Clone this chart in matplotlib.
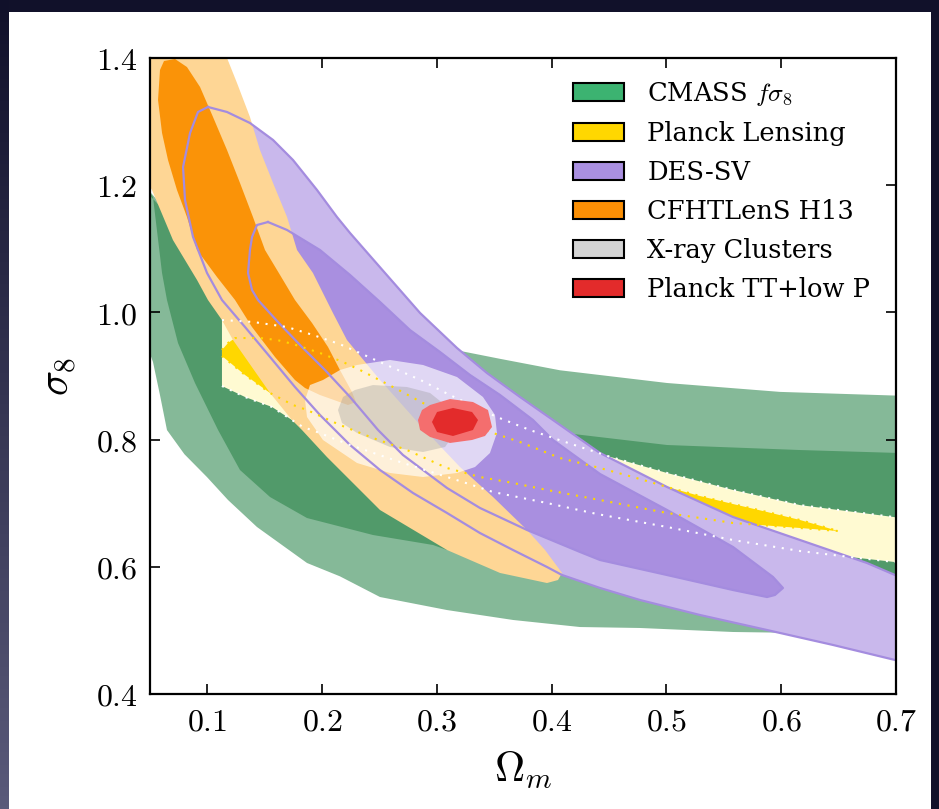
import numpy as np
import matplotlib
matplotlib.use('Agg')
import matplotlib.pyplot as plt
from matplotlib.patches import Patch, Rectangle
from matplotlib.colors import LinearSegmentedColormap

plt.rcParams['font.family'] = ['DejaVu Serif']
plt.rcParams['mathtext.fontset'] = 'cm'

# ---------------- data (Omega_m, sigma_8) ----------------
CMASS_OUTER = [(0.0413, 1.208), (0.0936, 1.098), (0.1807, 0.988), (0.2678, 0.957), (0.3158, 0.941),
               (0.355, 0.927), (0.4072, 0.909), (0.5005, 0.889), (0.599, 0.875), (0.7035, 0.869),
               (0.7035, 0.493), (0.6164, 0.496), (0.558, 0.4975), (0.4769, 0.5038), (0.4247, 0.5053),
               (0.3663, 0.5164), (0.3088, 0.532), (0.2504, 0.5525), (0.2155, 0.585), (0.1868, 0.606),
               (0.1432, 0.6626), (0.1180, 0.705), (0.0997, 0.741), (0.0800, 0.777), (0.0648, 0.815),
               (0.0587, 0.870), (0.0526, 0.922), (0.0456, 0.957)]
CMASS_INNER = [(0.0413, 1.200), (0.111, 1.067), (0.198, 0.957), (0.2853, 0.870), (0.355, 0.823),
               (0.4133, 0.810), (0.5005, 0.7915), (0.6164, 0.7836), (0.7035, 0.7789),
               (0.7035, 0.540), (0.6164, 0.540), (0.5292, 0.571), (0.4421, 0.6028), (0.355, 0.623),
               (0.3088, 0.6264), (0.2966, 0.6343), (0.2443, 0.650), (0.1868, 0.6767), (0.1546, 0.7097),
               (0.1284, 0.7522), (0.1093, 0.8151), (0.0892, 0.889), (0.0744, 0.9519), (0.0648, 1.0195),
               (0.0605, 1.0619), (0.0526, 1.1814), (0.0456, 1.200)]

LENS_OUTER_UPPER = [(0.1127, 0.988), (0.1397, 0.985), (0.1694, 0.977), (0.192, 0.9645), (0.2155, 0.950),
                    (0.233, 0.936), (0.2565, 0.917), (0.2853, 0.894), (0.3114, 0.870), (0.3523, 0.8355),
                    (0.3811, 0.815), (0.4072, 0.799), (0.4508, 0.773), (0.5005, 0.7475), (0.558, 0.7208),
                    (0.6164, 0.697), (0.6991, 0.678), (0.708, 0.677)]
LENS_OUTER_LOWER = [(0.1127, 0.8843), (0.1328, 0.867), (0.1563, 0.8513), (0.1737, 0.8308), (0.1833, 0.8198),
                    (0.1955, 0.812), (0.2243, 0.7915), (0.2678, 0.7648), (0.3088, 0.7412), (0.3227, 0.7333),
                    (0.3489, 0.7176), (0.3959, 0.7003), (0.4395, 0.683), (0.5005, 0.6626), (0.558, 0.6421),
                    (0.6164, 0.6248), (0.6599, 0.6154), (0.6991, 0.6075), (0.708, 0.606)]
LENS_INNER_UPPER = [(0.1127, 0.9409), (0.118, 0.9519), (0.1241, 0.9597), (0.1458, 0.9597), (0.1607, 0.9566),
                    (0.1746, 0.9503), (0.1981, 0.9362), (0.2182, 0.922), (0.233, 0.9094), (0.2617, 0.8827),
                    (0.2879, 0.8575), (0.3201, 0.8308), (0.3489, 0.8104), (0.3724, 0.7962), (0.4072, 0.7711),
                    (0.4421, 0.7553), (0.4708, 0.7412), (0.5005, 0.7255), (0.5292, 0.7113), (0.558, 0.6987),
                    (0.5876, 0.6862), (0.6164, 0.6736), (0.6350, 0.6640), (0.6495, 0.6563)]
LENS_INNER_LOWER = [(0.1127, 0.9315), (0.1328, 0.9016), (0.1546, 0.8733), (0.1746, 0.8544), (0.1868, 0.8465),
                    (0.2155, 0.823), (0.2443, 0.8025), (0.2739, 0.7836), (0.3088, 0.7553), (0.3375, 0.7412),
                    (0.3663, 0.7318), (0.3959, 0.7208), (0.4421, 0.705), (0.5005, 0.6846), (0.558, 0.6689),
                    (0.6164, 0.661), (0.6495, 0.6563)]

DES_OUTER = [(0.1005, 1.323), (0.1171, 1.3151), (0.1371, 1.2978), (0.1572, 1.2711), (0.1746, 1.2396),
             (0.1955, 1.1925), (0.2129, 1.150), (0.2243, 1.1248), (0.2548, 1.0619), (0.2853, 0.9991),
             (0.3175, 0.944), (0.3436, 0.9047), (0.3724, 0.867), (0.4011, 0.8308), (0.4421, 0.7789),
             (0.5005, 0.7255), (0.558, 0.6783), (0.6164, 0.6421), (0.6747, 0.606), (0.6991, 0.5871),
             (0.7209, 0.573), (0.7209, 0.4425), (0.6991, 0.4535), (0.6451, 0.4771), (0.5876, 0.5006),
             (0.5292, 0.5242), (0.4769, 0.5478), (0.4421, 0.5667), (0.409, 0.5871), (0.3959, 0.5997),
             (0.3663, 0.6264), (0.3375, 0.6531), (0.3088, 0.6846), (0.2792, 0.716), (0.2504, 0.7522),
             (0.2243, 0.7915), (0.1981, 0.8387), (0.1763, 0.8827), (0.1546, 0.9299), (0.1328, 0.977),
             (0.1127, 1.0195), (0.0997, 1.0619), (0.0875, 1.1186), (0.0805, 1.1767), (0.0788, 1.2286),
             (0.0849, 1.2821), (0.0918, 1.3151)]
DES_INNER = [(0.1528, 1.1421), (0.1694, 1.1296), (0.1981, 1.0981), (0.2243, 1.0588), (0.2504, 1.0164),
             (0.2765, 0.9723), (0.3027, 0.9377), (0.3288, 0.9016), (0.355, 0.8701), (0.3837, 0.8308),
             (0.4011, 0.7994), (0.4421, 0.7459), (0.5005, 0.6893), (0.558, 0.6311), (0.5928, 0.584),
             (0.6015, 0.5667), (0.5945, 0.5557), (0.5876, 0.5525), (0.558, 0.5635), (0.5005, 0.5871),
             (0.4421, 0.6107), (0.4247, 0.6233), (0.3785, 0.6579), (0.3375, 0.6925), (0.3088, 0.7239),
             (0.2704, 0.7758), (0.2487, 0.8151), (0.2243, 0.867), (0.2025, 0.9094), (0.1824, 0.9456),
             (0.1615, 0.9849), (0.1441, 1.0195), (0.1389, 1.0352), (0.1354, 1.0619), (0.1371, 1.0981),
             (0.1389, 1.1186), (0.1432, 1.1374)]

CFHT_OUTER = [(0.0413, 1.4204), (0.1127, 1.4204), (0.1171, 1.400), (0.1258, 1.3607), (0.1371, 1.3072),
              (0.1458, 1.2553), (0.1572, 1.2035), (0.1694, 1.150), (0.1781, 1.0981), (0.192, 1.0619),
              (0.2094, 0.9991), (0.2216, 0.9566), (0.2504, 0.8937), (0.2853, 0.823), (0.3201, 0.7569),
              (0.3489, 0.7097), (0.3785, 0.6579), (0.3942, 0.6264), (0.409, 0.5903), (0.4055, 0.5792),
              (0.3959, 0.5745), (0.355, 0.5903), (0.3088, 0.6264), (0.2504, 0.6893), (0.2042, 0.7726),
              (0.1824, 0.8151), (0.1737, 0.8308), (0.1546, 0.8733), (0.1223, 0.9566), (0.1127, 0.988),
              (0.1005, 1.0195), (0.091, 1.0509), (0.070, 1.1138), (0.0517, 1.1925), (0.0413, 1.2239)]
CFHT_INNER = [(0.0718, 1.3984), (0.0822, 1.3858), (0.0936, 1.3544), (0.1049, 1.3072), (0.1171, 1.2553),
              (0.1284, 1.2035), (0.1397, 1.150), (0.1502, 1.0981), (0.1633, 1.0588), (0.1763, 1.0195),
              (0.1912, 0.9833), (0.2051, 0.9456), (0.2155, 0.9094), (0.226, 0.8748), (0.2295, 0.8591),
              (0.2225, 0.8544), (0.1981, 0.8701), (0.1851, 0.8811), (0.1763, 0.8937), (0.1589, 0.9299),
              (0.1389, 0.977), (0.1241, 1.0195), (0.1084, 1.0556), (0.091, 1.0981), (0.0822, 1.150),
              (0.0735, 1.1925), (0.0657, 1.2396), (0.0605, 1.2821), (0.057, 1.334), (0.0587, 1.3811),
              (0.0622, 1.3953)]

XRAY_OUTER = [(0.1851, 0.8623), (0.1894, 0.8858), (0.2007, 0.8937), (0.2155, 0.9094), (0.2304, 0.9173),
              (0.2591, 0.9252), (0.2879, 0.9173), (0.3175, 0.8984), (0.3401, 0.867), (0.3506, 0.8387),
              (0.3523, 0.8104), (0.3462, 0.7789), (0.3332, 0.7569), (0.3175, 0.7475), (0.2879, 0.7412),
              (0.2591, 0.7475), (0.2304, 0.7632), (0.2007, 0.7994), (0.1868, 0.8355)]
XRAY_INNER = [(0.2138, 0.8465), (0.2182, 0.867), (0.2286, 0.878), (0.2443, 0.8858), (0.2739, 0.8827),
              (0.294, 0.8733), (0.3071, 0.8544), (0.3114, 0.8308), (0.3131, 0.8041), (0.3071, 0.7884),
              (0.2879, 0.7805), (0.2591, 0.7884), (0.2304, 0.8104), (0.2173, 0.8261)]

PLANCK_OUTER = [(0.2835, 0.8308), (0.287, 0.8465), (0.294, 0.8544), (0.3114, 0.8638), (0.3314, 0.8591),
                (0.3445, 0.8465), (0.348, 0.8198), (0.3419, 0.8057), (0.3306, 0.7994), (0.3114, 0.7947),
                (0.294, 0.8041), (0.2853, 0.8151)]
PLANCK_INNER = [(0.2957, 0.8277), (0.3001, 0.8434), (0.314, 0.8497), (0.3306, 0.8434), (0.3358, 0.8308),
                (0.3314, 0.8151), (0.314, 0.8057), (0.3001, 0.8119)]

LEGEND_LABELS = [r'CMASS $f\sigma_8$', 'Planck Lensing', 'DES-SV', 'CFHTLenS H13',
                 'X-ray Clusters', 'Planck TT+low P']
LEGEND_COLORS = ['#3cb371', '#ffd700', '#a98fe0', '#fb8f05', '#d3d3d3', '#e32b2b']
X_TICKS = [0.1, 0.2, 0.3, 0.4, 0.5, 0.6, 0.7]
Y_TICKS = [0.4, 0.6, 0.8, 1.0, 1.2, 1.4]

# ---------------- figure ----------------
W, H = 939, 809
fig = plt.figure(figsize=(W / 100, H / 100), dpi=100)
fig.patch.set_facecolor('#11112a')
fig.add_artist(Rectangle((9 / W, 0), (931 - 9) / W, (H - 12) / H, transform=fig.transFigure,
                         facecolor='white', edgecolor='none', zorder=-5))
gax = fig.add_axes([0, 0, 9 / W, 1], zorder=-6)
grad = np.linspace(0, 1, 256).reshape(-1, 1)
cm_bg = LinearSegmentedColormap.from_list('bg', ['#10102a', '#5a5a7a'])
gax.imshow(grad, aspect='auto', cmap=cm_bg, origin='upper', extent=[0, 1, 0, 1])
gax.set_axis_off()

ax = fig.add_axes([150 / W, 1 - 694 / H, 746 / W, 636 / H])
ax.set_xlim(0.05, 0.7)
ax.set_ylim(0.4, 1.4)


def fill(poly, color, z, **kw):
    xs, ys = zip(*poly)
    ax.fill(xs, ys, color=color, lw=0, zorder=z, **kw)


def line(poly, color, z, closed=False, **kw):
    pts = list(poly) + ([poly[0]] if closed else [])
    xs, ys = zip(*pts)
    ax.plot(xs, ys, color=color, zorder=z, **kw)


fill(CMASS_OUTER, '#85b998', 1)
fill(CMASS_INNER, '#519a6a', 2)
fill(LENS_OUTER_UPPER + LENS_OUTER_LOWER[::-1], '#fffad2', 3)
fill(LENS_INNER_UPPER + LENS_INNER_LOWER[::-1], '#ffd700', 4)
fill(DES_OUTER, '#c9b8ec', 5)
fill(DES_INNER, '#a98fe0', 6)
fill(CFHT_OUTER, '#fed695', 7)
fill(CFHT_INNER, '#fa9308', 8)
fill(XRAY_OUTER, 'white', 10, alpha=0.65)
fill(XRAY_INNER, '#969696', 11, alpha=0.33)
line(DES_OUTER, '#a48cdf', 12, closed=True, lw=1.6)
line(DES_INNER, '#a48cdf', 12, closed=True, lw=1.6)
dots = dict(lw=1.5, linestyle=(0, (1, 3.2)))
line(LENS_OUTER_UPPER, 'white', 13, **dots)
line(LENS_OUTER_LOWER, 'white', 13, **dots)
line(LENS_INNER_UPPER, '#ffd700', 13, **dots)
line(LENS_INNER_LOWER, '#ffd700', 13, **dots)
fill(PLANCK_OUTER, '#f46e6e', 14)
fill(PLANCK_INNER, '#e32b2b', 15)

ax.set_xticks(X_TICKS)
ax.set_yticks(Y_TICKS)
ax.set_xticklabels([r'$%.1f$' % v for v in X_TICKS])
ax.set_yticklabels([r'$%.1f$' % v for v in Y_TICKS])
ax.tick_params(direction='in', length=7, width=1.2, top=True, right=True,
               labelsize=23, pad=9, colors='black')
for s in ax.spines.values():
    s.set_linewidth(1.6)
    s.set_zorder(20)
ax.set_xlabel(r'$\Omega_m$', fontsize=30, labelpad=8)
ax.set_ylabel(r'$\sigma_8$', fontsize=30, labelpad=12)

handles = [Patch(facecolor=c, edgecolor='black', linewidth=1.5, label=l)
           for l, c in zip(LEGEND_LABELS, LEGEND_COLORS)]
leg = ax.legend(handles=handles, loc='upper left', bbox_to_anchor=(0.567, 0.966), frameon=False,
                fontsize=18.5, handlelength=2.0, handleheight=0.7, handletextpad=0.9,
                labelspacing=0.54, borderpad=0, borderaxespad=0)
leg.set_zorder(30)

fig.savefig('out.png', dpi=100, facecolor=fig.get_facecolor())
